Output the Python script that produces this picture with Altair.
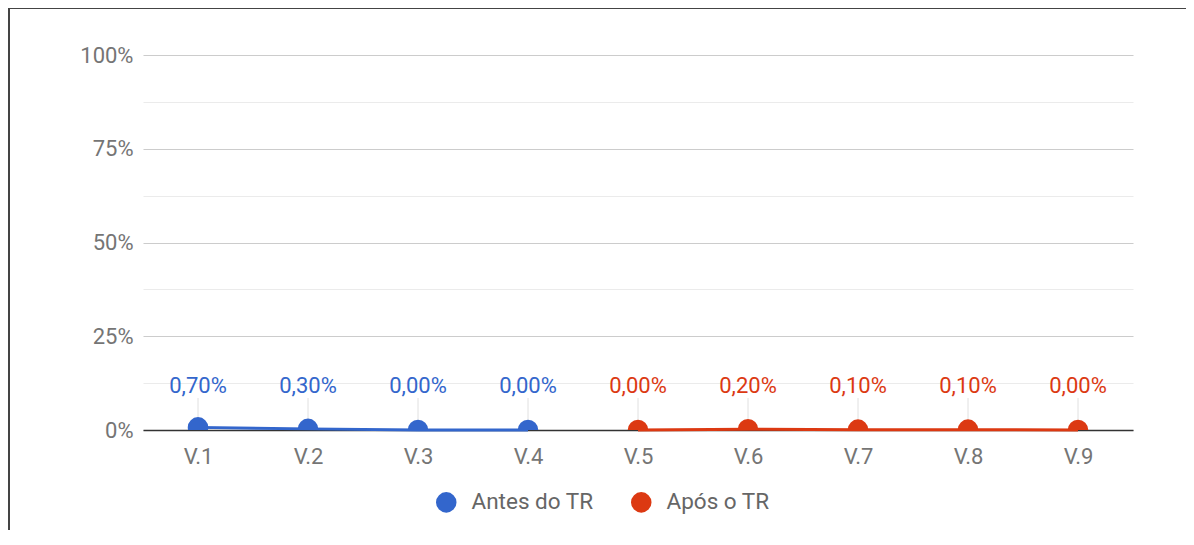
import altair as alt
import pandas as pd

categories = ["V.1", "V.2", "V.3", "V.4", "V.5", "V.6", "V.7", "V.8", "V.9"]
series = ["Antes do TR"] * 4 + ["Após o TR"] * 5
values = [0.70, 0.30, 0.00, 0.00, 0.00, 0.20, 0.10, 0.10, 0.00]
series_order = ["Antes do TR", "Após o TR"]
colors = ["#3366cc", "#dc3912"]
y_ticks = [0, 12.5, 25, 37.5, 50, 62.5, 75, 87.5, 100]

labels = [f"{v:.2f}%".replace(".", ",") for v in values]
df = pd.DataFrame({"cat": categories, "serie": series, "v": values, "label": labels})

FONT = "Roboto"
W, H = 990, 375
FS = 22

x_enc = alt.X("cat:N", sort=categories,
              scale=alt.Scale(type="point", padding=0.5),
              axis=alt.Axis(title=None, labelAngle=0, ticks=False, domain=True,
                            domainColor="#333333", domainWidth=1.5,
                            labelColor="#757575", labelFontSize=FS, labelFont=FONT,
                            labelPadding=16, grid=False))
y_enc = alt.Y("v:Q", scale=alt.Scale(domain=[0, 100], nice=False),
              axis=alt.Axis(title=None, values=y_ticks, domain=False, ticks=False,
                            labelExpr="datum.value % 25 === 0 ? datum.value + '%' : ''",
                            labelColor="#757575", labelFontSize=FS, labelFont=FONT,
                            labelPadding=10,
                            gridColor={"condition": {"test": "datum.value % 25 === 0", "value": "#cccccc"},
                                       "value": "#ebebeb"},
                            gridWidth=1.2))
color_enc = alt.Color("serie:N", scale=alt.Scale(domain=series_order, range=colors),
                      legend=alt.Legend(title=None, orient="none", legendX=292, legendY=436,
                                        direction="horizontal", symbolType="circle",
                                        symbolSize=420, symbolStrokeWidth=0,
                                        labelFont=FONT, labelFontSize=22.5, labelColor="#666666",
                                        labelOffset=14, columnPadding=36))

base = alt.Chart(df)

stems = base.mark_rule(color="#e0e0e0", strokeWidth=1).encode(
    x=x_enc, y=y_enc, y2=alt.value(343))
line = base.mark_line(strokeWidth=3).encode(x=x_enc, y=y_enc, color=color_enc)
points = base.mark_point(filled=True, opacity=1, size=420, shape="circle", clip=True).encode(
    x=x_enc, y=y_enc, color=color_enc)
text = base.mark_text(font=FONT, fontSize=FS, baseline="middle", align="center").encode(
    x=x_enc, y=alt.value(331), text="label:N",
    color=alt.Color("serie:N", scale=alt.Scale(domain=series_order, range=colors), legend=None))

frame_df = pd.DataFrame({"a": [0]})
top_border = alt.Chart(frame_df).mark_rule(color="#444444", strokeWidth=2).encode(
    x=alt.value(-135), x2=alt.value(1043), y=alt.value(-47))
left_border = alt.Chart(frame_df).mark_rule(color="#444444", strokeWidth=2).encode(
    x=alt.value(-134), y=alt.value(-47), y2=alt.value(480))

chart = alt.layer(stems, line, points, text, top_border, left_border).properties(
    width=W, height=H,
    autosize=alt.AutoSizeParams(type="none"),
    padding={"left": 135, "top": 47, "right": 53, "bottom": 100},
).configure(background="white").configure_view(stroke=None)

chart.save("out.html", embed_options={"renderer": "svg", "actions": False})
